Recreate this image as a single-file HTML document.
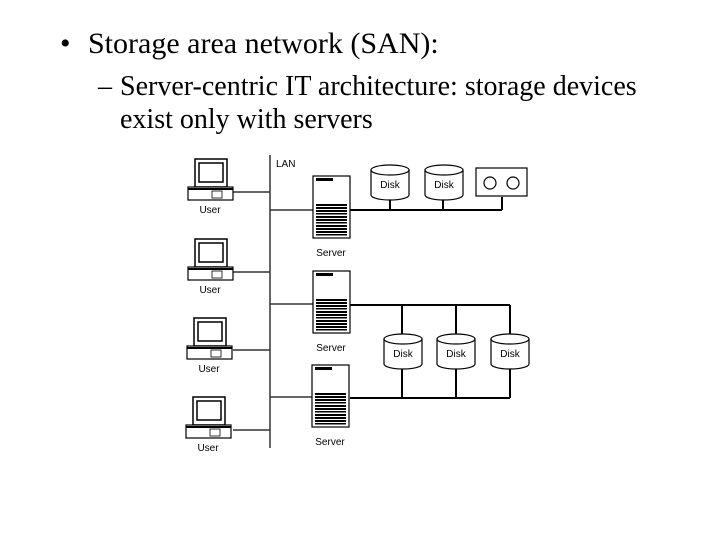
<!DOCTYPE html>
<html><head><meta charset="utf-8"><style>
html,body{margin:0;padding:0;background:#fff;}
body{width:720px;height:540px;position:relative;overflow:hidden;font-family:"Liberation Serif",serif;color:#000;}
.t{position:absolute;white-space:nowrap;}
</style></head><body>
<div class="t" style="left:60px;top:27px;font-size:30px;">•</div>
<div class="t" style="left:88px;top:27px;font-size:30px;">Storage area network (SAN):</div>
<div class="t" style="left:98px;top:71px;font-size:28px;">–</div>
<div class="t" style="left:120px;top:71px;font-size:28px;">Server-centric IT architecture: storage devices</div>
<div class="t" style="left:120px;top:104px;font-size:28px;">exist only with servers</div>
<svg width="720" height="540" style="position:absolute;left:0;top:0" font-family="Liberation Sans, sans-serif" font-size="10">
<defs>
<g id="pc">
<rect x="195" y="159" width="32" height="28" fill="#fff" stroke="#000" stroke-width="1.5"/>
<rect x="199" y="163" width="24" height="19" fill="#fff" stroke="#000" stroke-width="1.5"/>
<rect x="188" y="187" width="45" height="13" fill="#fff" stroke="#000" stroke-width="1.2"/>
<rect x="188" y="188" width="45" height="2" fill="#000"/>
<rect x="212" y="191" width="10" height="7" fill="none" stroke="#000" stroke-width="0.8"/>
<text x="210" y="213" text-anchor="middle">User</text>
</g>
<g id="srv">
<rect x="313" y="176" width="37" height="62" fill="#fff" stroke="#000" stroke-width="1.2"/>
<rect x="316" y="178" width="17" height="3" fill="#000"/>
<g fill="#000">
<rect x="316" y="204" width="31" height="2"/><rect x="316" y="207" width="31" height="2"/>
<rect x="316" y="210" width="31" height="2"/><rect x="316" y="213" width="31" height="1.5"/>
<rect x="316" y="216" width="31" height="2"/><rect x="316" y="219" width="31" height="2"/>
<rect x="316" y="222" width="31" height="1.5"/><rect x="316" y="225" width="31" height="2"/>
<rect x="316" y="228" width="31" height="2"/><rect x="316" y="231" width="31" height="2"/>
<rect x="316" y="234" width="31" height="1.5"/>
</g>
<text x="331" y="256" text-anchor="middle">Server</text>
</g>
<g id="disk">
<path d="M0,5 L0,30 A19,5 0 0 0 38,30 L38,5" fill="#fff" stroke="#000" stroke-width="1.2"/>
<ellipse cx="19" cy="5" rx="19" ry="5" fill="#fff" stroke="#000" stroke-width="1.2"/>
<text x="19" y="23" text-anchor="middle">Disk</text>
</g>
</defs>
<g stroke="#333" stroke-width="1.5" fill="none">
<line x1="270" y1="155" x2="270" y2="448"/>
<line x1="233" y1="192" x2="270" y2="192"/>
<line x1="233" y1="272" x2="270" y2="272"/>
<line x1="233" y1="350" x2="270" y2="350"/>
<line x1="233" y1="430" x2="270" y2="430"/>
<line x1="270" y1="210" x2="313" y2="210"/>
<line x1="270" y1="304" x2="313" y2="304"/>
<line x1="270" y1="397" x2="313" y2="397"/>
</g>
<g stroke="#000" stroke-width="2" fill="none">
<line x1="350" y1="210" x2="502" y2="210"/>
<line x1="390" y1="198" x2="390" y2="210"/>
<line x1="443" y1="198" x2="443" y2="210"/>
<line x1="502" y1="197" x2="502" y2="210"/>
<line x1="350" y1="305" x2="510" y2="305"/>
<line x1="350" y1="398" x2="510" y2="398"/>
<line x1="402" y1="305" x2="402" y2="398"/>
<line x1="456" y1="305" x2="456" y2="398"/>
<line x1="510" y1="305" x2="510" y2="398"/>
</g>
<text x="276" y="167" font-size="10">LAN</text>
<use href="#pc"/>
<use href="#pc" transform="translate(0,80)"/>
<use href="#pc" transform="translate(-1,159)"/>
<use href="#pc" transform="translate(-2,238)"/>
<use href="#srv"/>
<use href="#srv" transform="translate(0,95)"/>
<use href="#srv" transform="translate(-1,189)"/>
<use href="#disk" transform="translate(371,165)"/>
<use href="#disk" transform="translate(425,165)"/>
<rect x="476" y="168" width="51" height="28" fill="#fff" stroke="#000" stroke-width="1.2"/>
<circle cx="490" cy="183" r="6" fill="#fff" stroke="#000" stroke-width="1.2"/>
<circle cx="513" cy="183" r="6" fill="#fff" stroke="#000" stroke-width="1.2"/>
<use href="#disk" transform="translate(384,334)"/>
<use href="#disk" transform="translate(437,334)"/>
<use href="#disk" transform="translate(491,334)"/>
</svg>
</body></html>
